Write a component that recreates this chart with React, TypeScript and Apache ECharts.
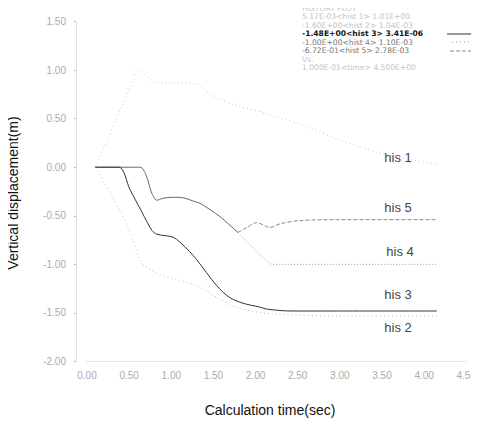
import React, { useEffect, useRef } from "react";
import * as echarts from "echarts";

const yTicks = [-2, -1.5, -1, -0.5, 0, 0.5, 1, 1.5];
const xTicks = [0, 0.5, 1, 1.5, 2, 2.5, 3, 3.5, 4, 4.5];

const his1T = [0.1, 0.25, 0.4, 0.55, 0.6, 0.66, 0.72, 0.81, 1.0, 1.3, 1.42, 1.54, 1.8, 2.1, 2.6, 3.0, 3.5, 4.15];
const his1V = [0, 0.3, 0.6, 0.9, 1.01, 0.98, 0.93, 0.87, 0.87, 0.86, 0.78, 0.71, 0.63, 0.56, 0.42, 0.28, 0.14, 0.03];

const his2T = [0.1, 0.2, 0.3, 0.4, 0.5, 0.65, 0.8, 1.0, 1.3, 1.5, 1.8, 2.2, 3.0, 4.15];
const his2V = [0, -0.15, -0.3, -0.46, -0.65, -0.98, -1.08, -1.14, -1.22, -1.32, -1.45, -1.51, -1.53, -1.53];

const his3T = [0.1, 0.38, 0.51, 0.65, 0.77, 0.83, 1.02, 1.1, 1.22, 1.3, 1.54, 1.69, 1.85, 2.05, 2.13, 2.41, 3.0, 4.15];
const his3V = [0, 0, -0.23, -0.46, -0.65, -0.69, -0.72, -0.77, -0.87, -0.95, -1.22, -1.34, -1.4, -1.44, -1.46, -1.48, -1.48, -1.48];

const his45T = [0.1, 0.63, 0.7, 0.77, 0.83, 0.9, 1.0, 1.1, 1.3, 1.34, 1.58, 1.79];
const his45V = [0, 0, -0.08, -0.27, -0.34, -0.32, -0.31, -0.31, -0.36, -0.37, -0.51, -0.672];

const his5T = [1.79, 1.9, 2.01, 2.17, 2.3, 2.52, 2.96, 3.5, 4.15];
const his5V = [-0.672, -0.62, -0.57, -0.62, -0.58, -0.55, -0.54, -0.54, -0.54];

const his4T = [1.79, 1.93, 2.08, 2.2, 2.32, 3.0, 4.15];
const his4V = [-0.672, -0.8, -0.92, -1.0, -1.0, -1.0, -1.0];

const legendRows = [
  "HISTORY PLOT",
  "5.17E-03<hist 1> 1.01E+00",
  "-1.60E+00<hist 2> 1.04E-03",
  "-1.48E+00<hist 3> 3.41E-06",
  "-1.00E+00<hist 4> 1.10E-03",
  "-6.72E-01<hist 5> 2.78E-03",
  "Vs.",
  "1.000E-01<time> 4.500E+00",
];

const hisLabels = [
  { text: "his 1", x: 398, y: 157 },
  { text: "his 5", x: 398, y: 207 },
  { text: "his 4", x: 400, y: 251 },
  { text: "his 3", x: 398, y: 294 },
  { text: "his 2", x: 398, y: 327 },
];

const zip = (t: number[], v: number[]) => t.map((x, i) => [x, v[i]]);

export default function App() {
  const ref = useRef<HTMLDivElement>(null);
  useEffect(() => {
    if (!ref.current) return;
    const chart = echarts.init(ref.current, undefined, { renderer: "svg" });
    const font = "'Liberation Sans', Arial, sans-serif";
    const lineSeries = (name: string, data: number[][], color: string, type: any, width: number) => ({
      type: "line",
      name,
      data,
      showSymbol: false,
      smooth: 0.3,
      lineStyle: { color, type, width },
    });
    const legendGraphics: any[] = legendRows.map((r, i) => {
      const bold = i === 3;
      const mid = i === 4 || i === 5;
      return {
        type: "text",
        x: 302,
        y: 8 + i * 8.5,
        style: {
          text: r,
          fontSize: 7.6,
          lineHeight: 7.6,
          fontFamily: "'DejaVu Sans', sans-serif",
          fontWeight: bold ? "bold" : "normal",
          fill: bold ? "#111" : mid ? "#777" : "#c4c4c4",
          verticalAlign: "middle",
        },
      };
    });
    legendGraphics.push(
      { type: "line", shape: { x1: 447, y1: 34, x2: 473, y2: 34 }, style: { stroke: "#333", lineWidth: 1 } },
      { type: "line", shape: { x1: 452, y1: 42, x2: 473, y2: 42 }, style: { stroke: "#999", lineWidth: 1, lineDash: [1, 3] } },
      { type: "line", shape: { x1: 450, y1: 51, x2: 473, y2: 51 }, style: { stroke: "#888", lineWidth: 1, lineDash: [4, 2] } }
    );
    const hisGraphics = hisLabels.map((h) => ({
      type: "text",
      x: h.x,
      y: h.y,
      style: { text: h.text, fontSize: 13, fontFamily: font, fill: "#444", align: "center", verticalAlign: "middle" },
    }));
    chart.setOption({
      animation: false,
      backgroundColor: "#fff",
      grid: { left: 87, right: 12, top: 21.5, bottom: 64.5 },
      xAxis: {
        type: "value",
        min: 0,
        max: 4.5,
        interval: 0.5,
        axisLine: { show: true, onZero: false, lineStyle: { color: "#ddd", type: "dotted" } },
        axisTick: { show: false },
        splitLine: { show: false },
        axisLabel: {
          color: "#aaa",
          fontSize: 10,
          fontFamily: font,
          margin: 9,
          showMaxLabel: true,
          formatter: (v: number) => (xTicks.includes(v) ? v.toFixed(2) : ""),
        },
      },
      yAxis: {
        type: "value",
        min: -2,
        max: 1.5,
        interval: 0.5,
        offset: 11,
        axisLine: { show: true, onZero: false, lineStyle: { color: "#ddd", type: "dotted" } },
        axisTick: { show: true, length: 2, lineStyle: { color: "#bbb" } },
        splitLine: { show: false },
        axisLabel: {
          color: "#aaa",
          fontSize: 10,
          fontFamily: font,
          margin: 10,
          formatter: (v: number) => (yTicks.includes(v) ? v.toFixed(2) : ""),
        },
      },
      series: [
        lineSeries("his 1", zip(his1T, his1V), "#c8c8c8", [1, 3], 1),
        lineSeries("his 2", zip(his2T, his2V), "#bbb", [1, 3], 1),
        lineSeries("his 4/5", zip(his45T, his45V), "#666", "solid", 1),
        lineSeries("his 5", zip(his5T, his5V), "#888", [4, 2], 1),
        lineSeries("his 4", zip(his4T, his4V), "#999", [1, 2], 1),
        lineSeries("his 3", zip(his3T, his3V), "#333", "solid", 1),
      ],
      graphic: [
        {
          type: "text",
          x: 13,
          y: 193,
          rotation: Math.PI / 2,
          style: {
            text: "Vertical displacement(m)",
            fontSize: 14,
            fontFamily: font,
            fill: "#111",
            align: "center",
            verticalAlign: "middle",
          },
        },
        {
          type: "text",
          x: 270,
          y: 410,
          style: {
            text: "Calculation time(sec)",
            fontSize: 14,
            fontFamily: font,
            fill: "#111",
            align: "center",
            verticalAlign: "middle",
          },
        },
        ...hisGraphics,
        ...legendGraphics,
      ],
    });
    return () => chart.dispose();
  }, []);
  return <div ref={ref} style={{ width: 479, height: 426, margin: -8 }} />;
}
